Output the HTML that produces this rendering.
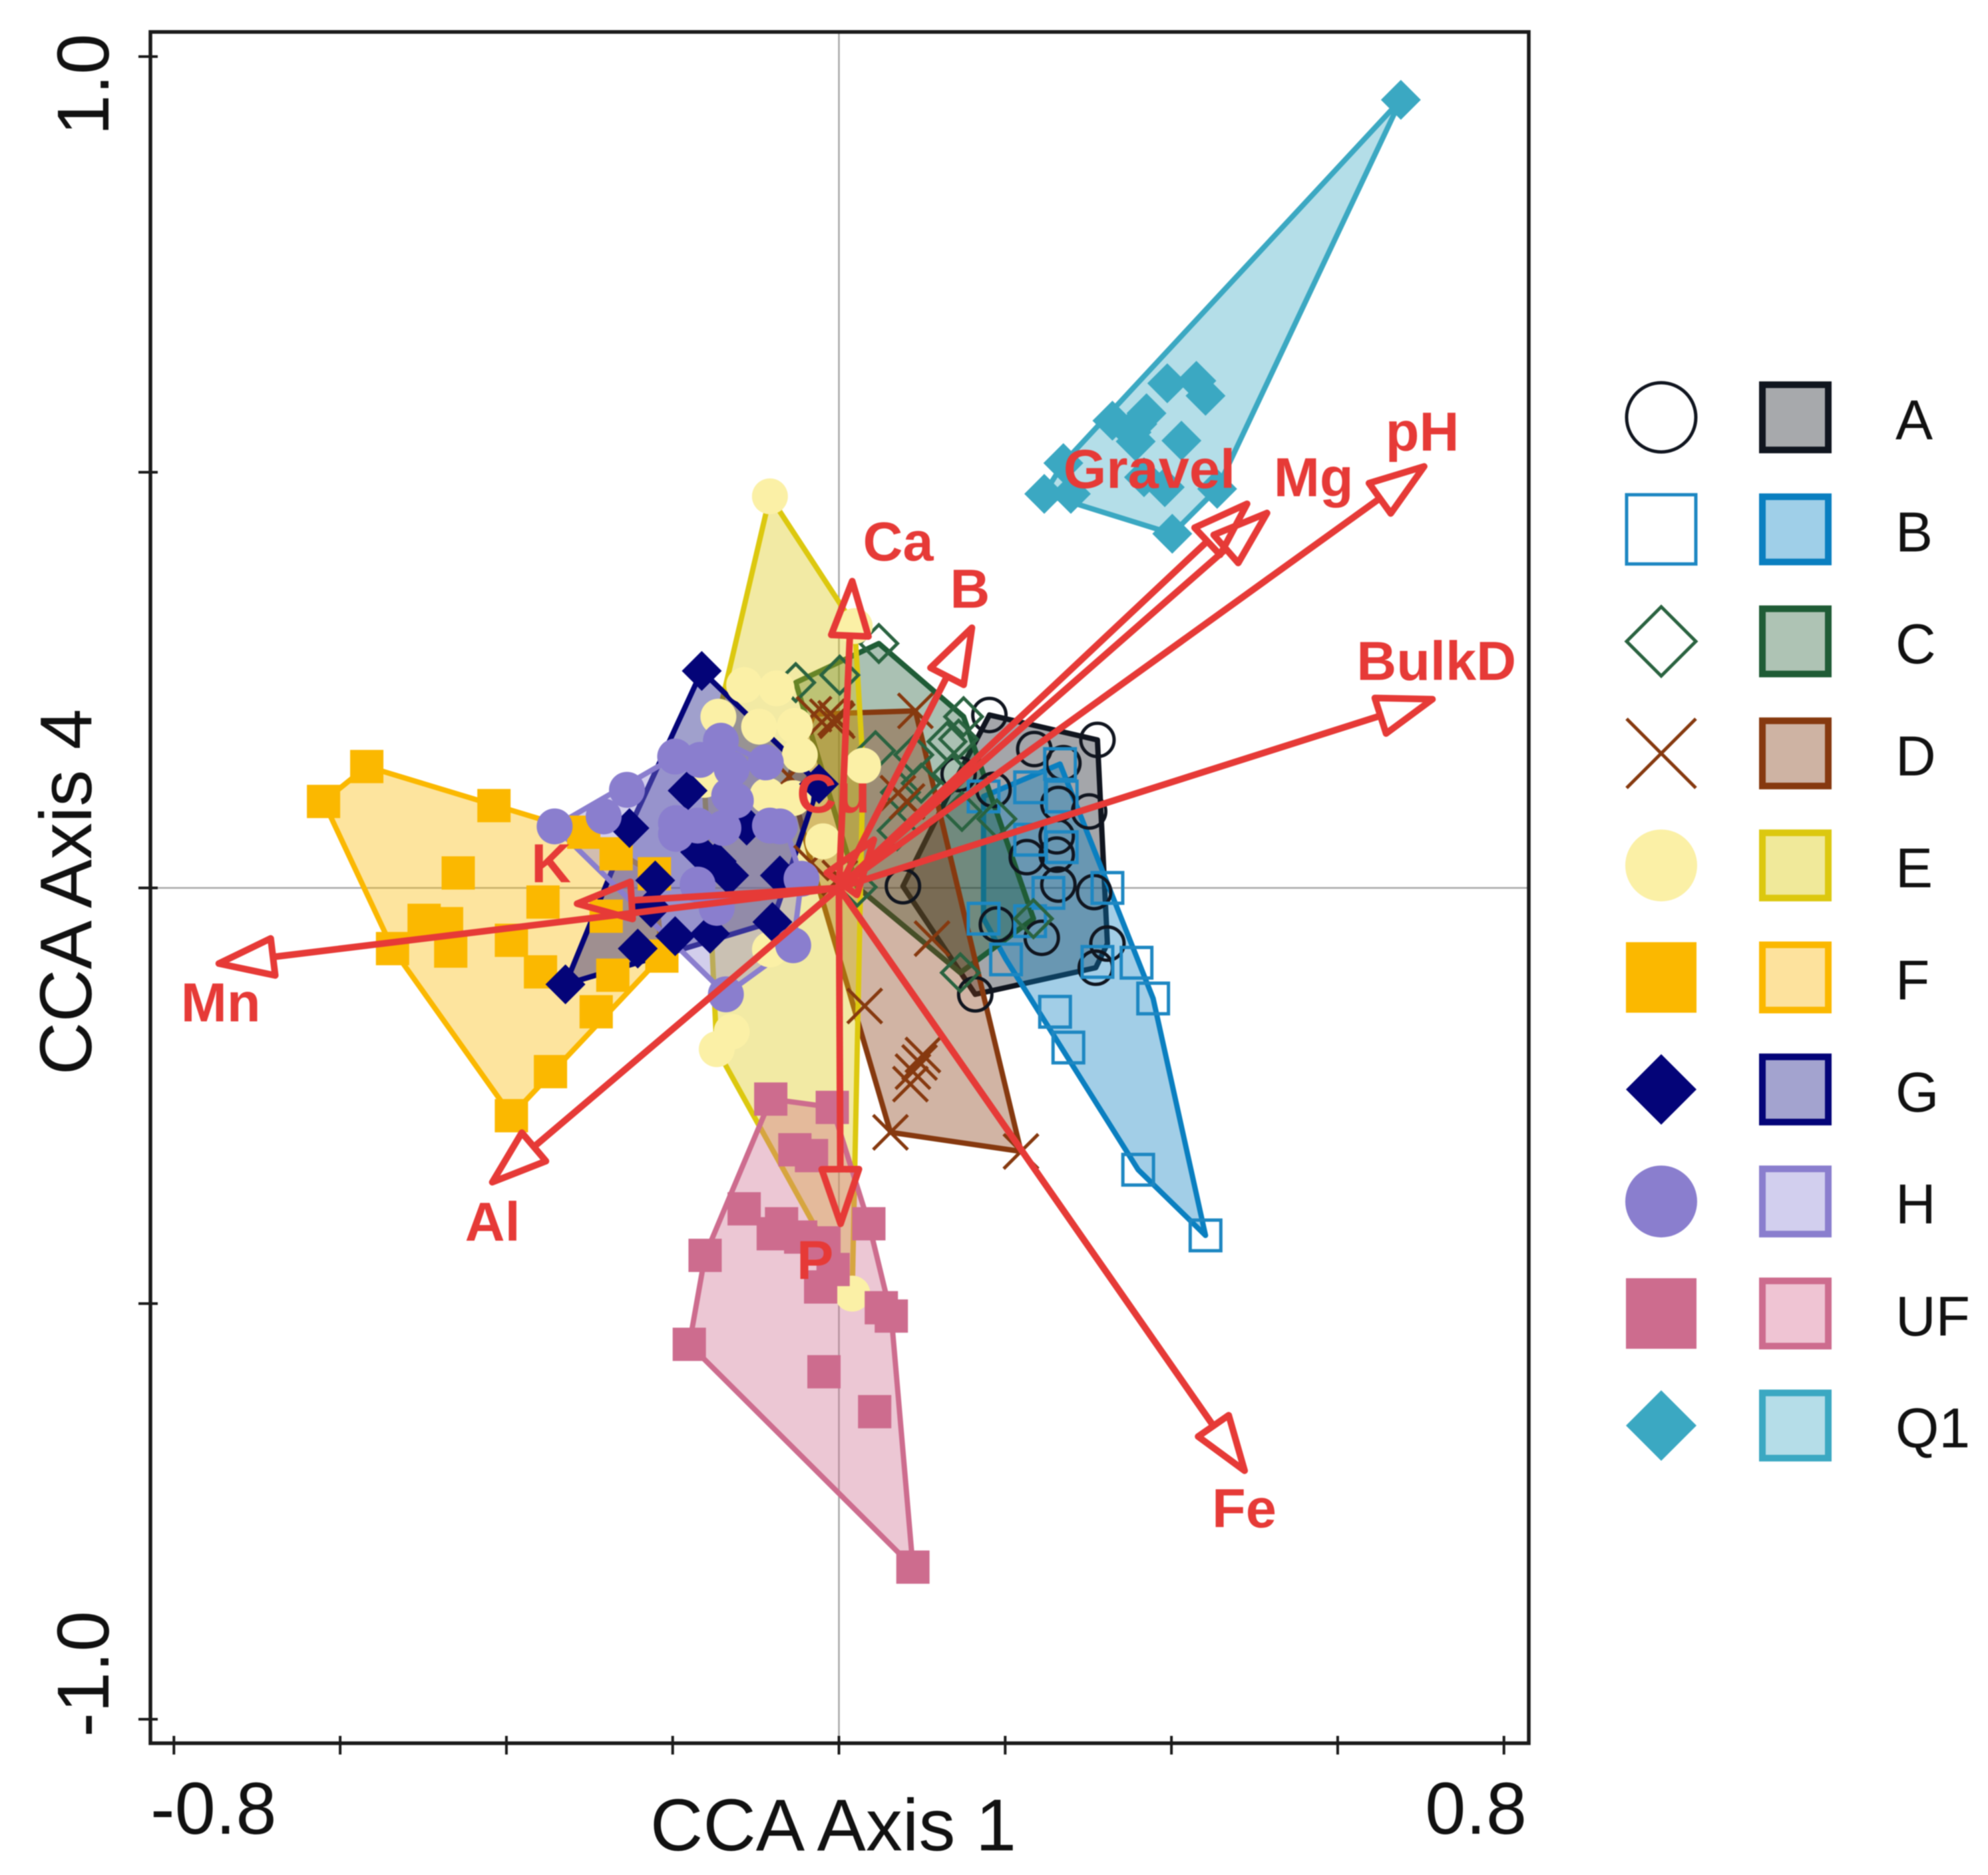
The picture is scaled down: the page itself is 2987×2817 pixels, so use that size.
<!DOCTYPE html>
<html lang="en">
<head>
<meta charset="utf-8">
<title>CCA biplot: Axis 1 vs Axis 4</title>
<style>
html,body{margin:0;padding:0;background:#fff;}
svg{display:block;filter:blur(0.8px);}
text{font-family:"Liberation Sans",sans-serif;}
</style>
</head>
<body>
<svg id="chart" xmlns="http://www.w3.org/2000/svg" width="2987" height="2817" viewBox="0 0 2987 2817"></svg>
<script>
// ---- data (CCA axis units) ----
const groupLabels = ['A','B','C','D','E','F','G','H','UF','Q1'];
const xTickValues = [-0.8,-0.6,-0.4,-0.2,0,0.2,0.4,0.6,0.8];
const yTickValues = [1,0.5,0,-0.5,-1];
const xTickLabels = ['-0.8','0.8'];
const yTickLabels = ['1.0','-1.0'];

const pointsA = [[.181,.208],[.235,.167],[.311,.178],[.270,.150],[.186,.118],[.144,.137],[.264,.101],[.301,.092],[.262,.062],[.226,.037],[.262,.040],[.264,.004],[.307,-.005],[.190,-.044],[.244,-.060],[.323,-.067],[.309,-.096],[.164,-.128],[.077,.002]];
const pointsB = [[.266,.149],[.230,.121],[.174,.110],[.268,.110],[.230,.058],[.268,.049],[.252,-.006],[.323,0],[.174,-.037],[.230,-.040],[.201,-.086],[.311,-.089],[.358,-.090],[.378,-.133],[.260,-.149],[.276,-.192],[.360,-.339],[.441,-.418]];
const pointsC = [[.048,.294],[.001,.256],[-.052,.247],[.150,.206],[.130,.176],[.144,.179],[.044,.165],[.090,.160],[.136,.137],[.074,.115],[.099,.126],[.148,.092],[.190,.083],[.022,.001],[.234,-.037],[.146,-.102],[.070,.069]];
const pointsD = [[-.014,.206],[-.002,.201],[-.030,.209],[-.004,.204],[.092,.213],[.071,.114],[.082,.104],[.112,-.061],[.031,-.142],[.097,-.210],[.089,-.221],[.101,-.201],[.086,-.236],[.062,-.294],[.219,-.317],[.001,.012],[-.033,.030],[-.060,.134]];
const pointsE = [[-.083,.471],[-.114,.244],[-.075,.240],[-.145,.206],[-.096,.194],[-.053,.195],[-.047,.160],[.029,.147],[-.019,.056],[-.086,.111],[-.055,.108],[-.162,.130],[-.147,-.194],[-.129,-.173],[-.083,-.074],[.019,.315],[.016,-.488]];
const pointsF = [[-.568,.146],[-.620,.104],[-.415,.099],[-.458,.018],[-.356,-.017],[-.499,-.039],[-.472,-.043],[-.537,-.073],[-.467,-.076],[-.394,-.063],[-.359,-.101],[-.272,-.105],[-.292,-.149],[-.213,-.082],[-.280,-.034],[-.268,.041],[-.307,.067],[-.222,.017],[-.347,-.221],[-.394,-.274]];
const pointsG = [[-.165,.261],[-.182,.117],[-.252,.072],[-.024,.125],[-.111,.075],[-.167,.043],[-.147,.032],[-.132,.015],[-.071,.015],[-.221,.009],[-.080,-.041],[-.197,-.058],[-.155,-.055],[-.242,-.073],[-.329,-.116],[-.226,-.024]];
const pointsH = [[-.342,.074],[-.255,.118],[-.283,.086],[-.197,.158],[-.167,.154],[-.142,.177],[-.129,.143],[-.088,.151],[-.132,.111],[-.196,.078],[-.196,.065],[-.139,.072],[-.083,.075],[-.071,.074],[-.045,.011],[-.055,-.069],[-.136,-.128],[-.170,.004],[-.147,-.024],[-.124,.105],[-.170,.075]];
const pointsUF = [[-.082,-.254],[-.008,-.264],[-.053,-.315],[-.033,-.322],[-.114,-.386],[-.069,-.404],[-.079,-.416],[-.046,-.420],[.036,-.404],[-.161,-.442],[-.018,-.427],[-.007,-.459],[-.022,-.480],[.051,-.505],[.063,-.515],[-.180,-.549],[-.018,-.582],[.043,-.630],[.089,-.817]];
const pointsQ1 = [[.395,.607],[.430,.610],[.441,.592],[.329,.562],[.370,.571],[.359,.558],[.352,.548],[.357,.537],[.412,.538],[.270,.511],[.367,.494],[.392,.482],[.455,.480],[.247,.474],[.279,.474],[.401,.426],[.676,.948]];

const arrowNames = ['Mn','K','Al','P','Fe','BulkD','pH','Mg','Gravel','B','Ca','Cu'];
const arrowX = [-.746,-.315,-.417,.002,.488,.714,.704,.515,.491,.160,.016,.042];
const arrowY = [-.091,-.019,-.354,-.404,-.701,.227,.507,.451,.462,.313,.369,.058];

// ---- layout and styling ----
const allPoints = [pointsA,pointsB,pointsC,pointsD,pointsE,pointsF,pointsG,pointsH,pointsUF,pointsQ1];
const lineColors = ['#10151f','#0a7fc0','#1f5c36','#86390f','#dcc80f','#fbb800','#040478','#8a7ece','#cd6c8e','#3ba8c2'];
const fillColors = ['#10151f','#0a7fc0','#1f5c36','#86390f','#dcc80f','#fbb800','#040478','#8a7ece','#cd6c8e','#3ba8c2'];
const pointColors = ['#10151f','#1d87c2','#2a6340','#86390f','#fbf0a6','#fbb800','#040478','#8a7ece','#cd6c8e','#3ba8c2'];
const shapes = ['open-circle','open-square','open-diamond','cross','circle','square','diamond','circle','square','diamond'];
const labelOffsets = {Mn:[-57,87],K:[-69,-32],Al:[-41,88],P:[-66,83],Fe:[-49,85],BulkD:[-114,-29],pH:[-58,-24],Mg:[10,-25],Gravel:[-276,-24],B:[-33,-30],Ca:[16,-31],Cu:[-116,-41]};
const plotSizes = {'open-circle':25,'open-square':23,'open-diamond':28,'cross':26,'circle':27,'square':25,'diamond':30};
const legendSizes = {'open-circle':52,'open-square':52,'open-diamond':52,'cross':52,'circle':54,'square':53,'diamond':53};

const NS = 'http://www.w3.org/2000/svg';
const svg = document.getElementById('chart');
const CX = 1260.5, CY = 1334, UNIT = 1249;
const FRAME = {l:226, r:2297, t:48, b:2619};
const RED = '#e63a37';
function sx(v){ return CX + v * UNIT; }
function sy(v){ return CY - v * UNIT; }
function mk(parent, tag, attrs){
  const el = document.createElementNS(NS, tag);
  for (const k in attrs) el.setAttribute(k, attrs[k]);
  parent.appendChild(el);
  return el;
}
function hull(pts){
  const p = pts.slice().sort((a,b)=>a[0]-b[0]||a[1]-b[1]);
  const cross=(o,a,b)=>(a[0]-o[0])*(b[1]-o[1])-(a[1]-o[1])*(b[0]-o[0]);
  const lo=[],up=[];
  for(const q of p){ while(lo.length>1&&cross(lo[lo.length-2],lo[lo.length-1],q)<=0) lo.pop(); lo.push(q); }
  for(const q of p.slice().reverse()){ while(up.length>1&&cross(up[up.length-2],up[up.length-1],q)<=0) up.pop(); up.push(q); }
  lo.pop(); up.pop();
  return lo.concat(up);
}
function drawMarker(parent, shape, x, y, color, s, sw){
  let el;
  if (shape==='open-circle'){
    el = mk(parent,'circle',{cx:x,cy:y,r:s,fill:'none',stroke:color,'stroke-width':sw});
  } else if (shape==='open-square'){
    el = mk(parent,'rect',{x:x-s,y:y-s,width:2*s,height:2*s,fill:'none',stroke:color,'stroke-width':sw});
  } else if (shape==='open-diamond'){
    el = mk(parent,'polygon',{points:`${x},${y-s} ${x+s},${y} ${x},${y+s} ${x-s},${y}`,fill:'none',stroke:color,'stroke-width':sw});
  } else if (shape==='cross'){
    el = mk(parent,'path',{d:`M${x-s} ${y-s}L${x+s} ${y+s}M${x-s} ${y+s}L${x+s} ${y-s}`,fill:'none',stroke:color,'stroke-width':sw});
  } else if (shape==='circle'){
    el = mk(parent,'circle',{cx:x,cy:y,r:s,fill:color});
  } else if (shape==='square'){
    el = mk(parent,'rect',{x:x-s,y:y-s,width:2*s,height:2*s,fill:color});
  } else {
    el = mk(parent,'polygon',{points:`${x},${y-s} ${x+s},${y} ${x},${y+s} ${x-s},${y}`,fill:color});
  }
  return el;
}

// background
const bg = mk(svg,'rect',{x:0,y:0,width:2987,height:2817,fill:'#fff'});



// zero reference lines
const zeroV = mk(svg,'line',{x1:sx(0),x2:sx(0),y1:FRAME.t,y2:FRAME.b,stroke:'#a8a8a8','stroke-width':2.5});


const zeroH = mk(svg,'line',{x1:FRAME.l,x2:FRAME.r,y1:sy(0),y2:sy(0),stroke:'#a8a8a8','stroke-width':2.5});



// hull polygons (all beneath the points)
allPoints.forEach((pts,i)=>{
  const d = hull(pts).map(p=>sx(p[0]).toFixed(1)+','+sy(p[1]).toFixed(1)).join(' ');
  const el = mk(svg,'polygon',{points:d,fill:fillColors[i],'fill-opacity':0.38,stroke:lineColors[i],'stroke-width':8,'stroke-linejoin':'round'});
  
  
});

// sample points
allPoints.forEach((pts,i)=>{
  const g = mk(svg,'g',{});
  
  
  pts.forEach(p=>{
    const m = drawMarker(g,shapes[i],sx(p[0]),sy(p[1]),pointColors[i],plotSizes[shapes[i]],5);
    
    
  });
});

// environmental arrows
const HEAD_LEN = 82, HEAD_HALF = 28;
arrowNames.forEach((name,i)=>{
  const x2=sx(arrowX[i]), y2=sy(arrowY[i]);
  const dx=x2-sx(0), dy=y2-sy(0), len=Math.hypot(dx,dy), ux=dx/len, uy=dy/len;
  const bx=x2-ux*HEAD_LEN, by=y2-uy*HEAD_LEN;
  const g = mk(svg,'g',{});
  
  
  mk(g,'line',{x1:sx(0),y1:sy(0),x2:bx,y2:by,stroke:RED,'stroke-width':10});
  mk(g,'polygon',{points:`${x2},${y2} ${bx-uy*HEAD_HALF},${by+ux*HEAD_HALF} ${bx+uy*HEAD_HALF},${by-ux*HEAD_HALF}`,fill:'none',stroke:RED,'stroke-width':10,'stroke-linejoin':'round'});
});
arrowNames.forEach((name,i)=>{
  const off = labelOffsets[name];
  const t = mk(svg,'text',{x:sx(arrowX[i])+off[0],y:sy(arrowY[i])+off[1],fill:RED,'font-size':83,'font-weight':'bold'});
  t.textContent = name;
  
  
});

// frame
const frame = mk(svg,'rect',{x:FRAME.l,y:FRAME.t,width:FRAME.r-FRAME.l,height:FRAME.b-FRAME.t,fill:'none',stroke:'#1a1a1a','stroke-width':5.5});



// ticks
xTickValues.forEach(v=>{
  const t = mk(svg,'line',{x1:sx(v),x2:sx(v),y1:FRAME.b-11,y2:FRAME.b+17,stroke:'#1a1a1a','stroke-width':4});
  
  
});
yTickValues.forEach(v=>{
  const t = mk(svg,'line',{x1:FRAME.l-18,x2:FRAME.l+11,y1:sy(v),y2:sy(v),stroke:'#1a1a1a','stroke-width':4});
  
  
});

// tick labels
const xl0 = mk(svg,'text',{x:226,y:2755,'font-size':110,fill:'#111'});
xl0.textContent = xTickLabels[0];


const xl1 = mk(svg,'text',{x:2294,y:2755,'font-size':110,fill:'#111','text-anchor':'end'});
xl1.textContent = xTickLabels[1];


const yl0 = mk(svg,'text',{x:0,y:0,'font-size':110,fill:'#111','text-anchor':'middle',transform:'translate(163,127) rotate(-90)'});
yl0.textContent = yTickLabels[0];


const yl1 = mk(svg,'text',{x:0,y:0,'font-size':110,fill:'#111','text-anchor':'middle',transform:'translate(163,2515) rotate(-90)'});
yl1.textContent = yTickLabels[1];



// axis titles
const xTitle = mk(svg,'text',{x:1252,y:2780,'font-size':110,fill:'#111','text-anchor':'middle'});
xTitle.textContent = 'CCA Axis 1';


const yTitle = mk(svg,'text',{x:0,y:0,'font-size':110,fill:'#111','text-anchor':'middle',transform:'translate(137,1340) rotate(-90)'});
yTitle.textContent = 'CCA Axis 4';



// legend
const legendFills = ['#a7a9ac','#9fcfe8','#aec3b4','#ceb3a3','#f0e99a','#fde29d','#a3a3cf','#d2cfee','#efc4d3','#b5dde8'];
const legendY0 = 627, legendStep = 168.3;
groupLabels.forEach((label,i)=>{
  const y = legendY0 + i*legendStep;
  const g = mk(svg,'g',{});
  
  
  const m = drawMarker(g,shapes[i],2496,y,pointColors[i],legendSizes[shapes[i]],5);
  
  
  const sw = mk(g,'rect',{x:2648,y:y-49,width:99,height:98,fill:legendFills[i],stroke:lineColors[i],'stroke-width':10});
  
  
  const t = mk(g,'text',{x:2848,y:y+33,'font-size':84,fill:'#111'});
  t.textContent = label;
  
  
});
</script>
</body>
</html>
